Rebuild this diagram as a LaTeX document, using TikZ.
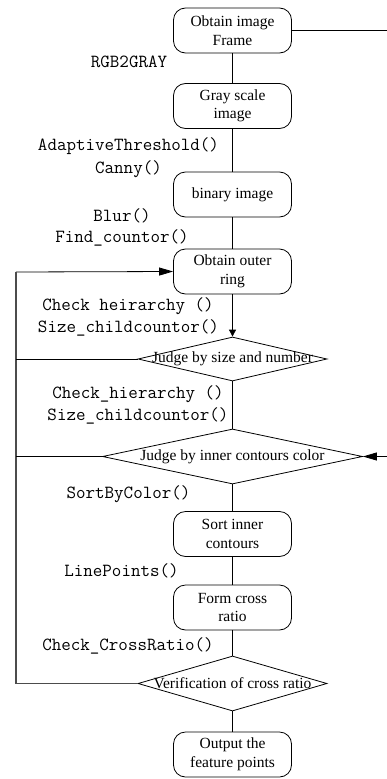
\documentclass[tikz,border=0pt]{standalone}
\usepackage{fontspec}
\setmainfont{Liberation Serif}
\usetikzlibrary{shapes.geometric,arrows.meta}
\begin{document}
\begin{tikzpicture}[x=1pt,y=-1pt,
  stepbox/.style={draw,line width=0.8pt,rounded corners=12pt,minimum width=118pt,minimum height=45pt,align=center,inner sep=1pt,font=\fontsize{15.5}{18.5}\selectfont},
  dia/.style={draw,line width=0.8pt,diamond,inner sep=0pt},
  diatext/.style={inner sep=0pt,font=\fontsize{15.5}{18.5}\selectfont},
  code/.style={inner sep=0pt,text height=11pt,text depth=3pt,font=\ttfamily\fontsize{18.5}{20}\selectfont},
  conn/.style={line width=0.8pt},
  arr/.style={line width=0.8pt,-{Triangle[length=14pt,width=8pt]}},
  sarr/.style={line width=0.8pt,-{Triangle[length=7pt,width=7pt]}}]
\useasboundingbox (0,0) rectangle (387,779);
\begin{scope}
\clip (0,0) rectangle (387,779);
\node[stepbox] (b1) at (232.5,30.5) {Obtain image\\Frame};
\node[stepbox] (b2) at (232.5,106) {Gray scale\\image};
\node[stepbox] (b3) at (232.5,194.5) {binary image};
\node[stepbox] (b4) at (232.5,271.5) {Obtain outer\\ring};
\node[dia,minimum width=189pt,minimum height=44pt] (d1) at (232.5,359) {};
\node[diatext] (t1) at (d1) {Judge by size and number};
\node[dia,minimum width=260pt,minimum height=55pt] (d2) at (232.5,456.5) {};
\node[diatext] (t2) at (d2) {Judge by inner contours color};
\node[stepbox] (b5) at (232.5,534) {Sort inner\\contours};
\node[stepbox] (b6) at (232.5,607.5) {Form cross\\ratio};
\node[dia,minimum width=189pt,minimum height=55pt] (d3) at (232.5,683.5) {};
\node[diatext] (t3) at (d3) {Verification of cross ratio};
\node[stepbox] (b7) at (232.5,754.5) {Output the\\feature points};

\coordinate (L) at (16,272);
\coordinate (R1) at (392,30.5);
\coordinate (R2) at (392,456.5);

\draw[conn] (b1) -- (b2);
\draw[conn] (b2) -- (b3);
\draw[conn] (b3) -- (b4);
\draw[sarr] (b4) -- (d1);
\draw[conn] (d1) -- (d2);
\draw[conn] (d2) -- (b5);
\draw[conn] (b5) -- (b6);
\draw[conn] (b6) -- (d3);
\draw[conn] (d3) -- (b7);

\draw[arr] (L) -- (b4.west);
\draw[conn,draw=black!70,line width=1.1pt] (d3.west) -| (L);
\draw[conn] (d1.west) -- (d1.west -| L);
\draw[conn] (d2.west) -- (d2.west -| L);
\draw[conn] (b1.east) -- (R1) -- (R2);
\draw[arr] (R2) -- (d2.east);

\node[code] (c1) at (129,63) {RGB2GRAY};
\node[code] (c2) at (128.5,146) {AdaptiveThreshold()};
\node[code] (c3) at (128.5,169) {Canny()};
\node[code] (c4) at (122,217) {Blur()};
\node[code] (c5) at (122,238) {Find\_countor()};
\node[code] (c6) at (128,306) {Check heirarchy ()};
\node[code] (c7) at (128.5,328) {Size\_childcountor()};
\node[code] (c8) at (138,394) {Check\_hierarchy ()};
\node[code] (c9) at (138,416) {Size\_childcountor()};
\node[code] (c10) at (128.5,494) {SortByColor()};
\node[code] (c11) at (121.5,572) {LinePoints()};
\node[code] (c12) at (128,646) {Check\_CrossRatio()};
\end{scope}
\end{tikzpicture}
\end{document}
